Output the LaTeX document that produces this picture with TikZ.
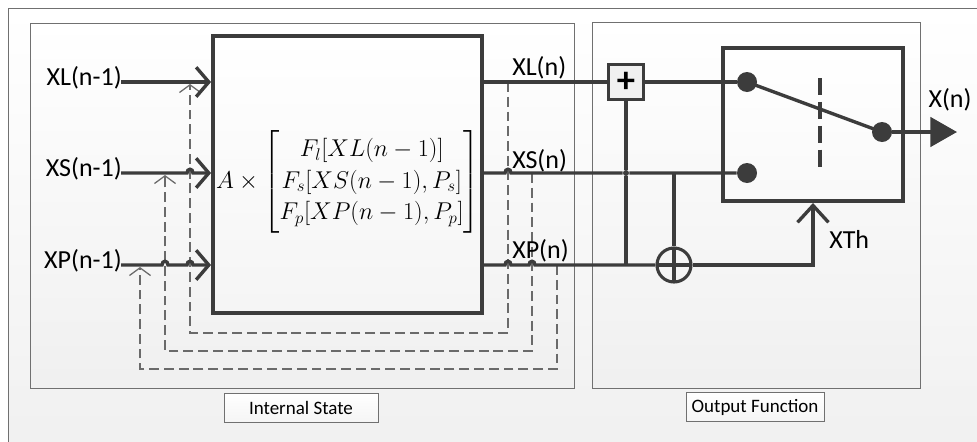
\documentclass[tikz,border=0pt]{standalone}
\usepackage{amsmath}
\usepackage{fontspec}
\setmainfont{Carlito}
\usetikzlibrary{arrows.meta,positioning}

\definecolor{ink}{HTML}{3C3C3C}
\definecolor{frame}{HTML}{707070}
\definecolor{fback}{HTML}{6A6A6A}

\tikzset{
  panel/.style={draw=frame, line width=0.7pt, top color=white, bottom color=gray!12},
  tag/.style={draw=frame, line width=0.7pt, top color=white, bottom color=gray!8,
    font=\fontsize{13.5}{16}\selectfont, minimum height=29*0.025cm, inner sep=0pt},
  sig/.style={font=\fontsize{18.5}{21}\selectfont, inner sep=0pt},
  flow/.style={draw=ink, line width=2.4pt},
  fb/.style={draw=fback, line width=0.9pt, dash pattern=on 7pt off 3.5pt},
  inarr/.style={-{Straight Barb[length=9pt,width=21pt,line width=2.4pt]}},
  fbarr/.style={-{Straight Barb[length=5.5pt,width=15pt,line width=0.9pt]}},
  hop/.style 2 args={insert path={-- (#1-3,#2) .. controls (#1-3,#2-5) and (#1+3,#2-5) .. (#1+3,#2)}},
  dot/.style={circle, fill=ink, minimum size=20*0.025cm, inner sep=0pt},
  joint/.style={circle, fill=ink, minimum size=6*0.025cm, inner sep=0pt}
}

\begin{document}
\begin{tikzpicture}[x=0.025cm, y=-0.025cm]
  \clip (0,0) rectangle (977,441);
  \fill[white] (0,0) rectangle (977,441);
  \draw[panel] (8,8) rectangle (1000,470);

  % the two panels
  \draw[panel] (30,23) rectangle (574,388);
  \draw[panel] (592,22) rectangle (920,388);
  \node[tag, minimum width=154*0.025cm] (statetag) at (301,407.5) {Internal State};
  \node[tag, minimum width=138*0.025cm] (outtag) at (755,407) {Output Function};

  % state update block
  \node[draw=ink, line width=2.8pt, top color=white, bottom color=gray!8,
        minimum width=269*0.025cm, minimum height=277*0.025cm, inner sep=0pt] (core) at (347.5,174.5) {};
  \node[font=\fontsize{17.5}{22.5}\selectfont, inner sep=0pt] (law) at (348,182)
    {$A\times\begin{bmatrix} F_l[XL(n-1)]\\ F_s[XS(n-1),P_s]\\ F_p[XP(n-1),P_p]\end{bmatrix}$};

  % inputs, outputs and feedback paths
  \foreach \n/\y/\fx/\tx/\by/\ly in {L/82/190/508/333/75, S/173/165/532/351/168, P/265/140/557/369/258} {
    \coordinate (x\n in) at (121,\y);
    \node[sig, anchor=base east] (x\n lab) at (122,\y+3.5) {X\n(n-1)};
    \node[sig, anchor=base west] (x\n out) at (512,\ly) {X\n(n)};
    \coordinate (tap\n) at (\tx,\y);
    \coordinate (ret\n) at (\fx,\y+2);
    \draw[fb, fbarr] (tap\n) |- (\fx,\by) -- (ret\n);
  }
  \draw[flow, inarr] (xLin) -- (core.west |- xLin);
  \draw[flow, inarr] (xSin) [hop={190}{173}] -- (core.west |- xSin);
  \draw[flow, inarr] (xPin) [hop={165}{265}] [hop={190}{265}] -- (core.west |- xPin);

  % output function
  \node[draw=ink, line width=2.8pt, top color=white, bottom color=gray!5,
        minimum width=180*0.025cm, minimum height=153*0.025cm, inner sep=0pt] (sw) at (813,124.5) {};
  \node[draw=ink, line width=2.2pt, fill=gray!12, minimum size=35*0.025cm, inner sep=0pt,
        font=\fontsize{26}{26}\selectfont\bfseries] (plus) at (626,82) {+};
  \node[circle, draw=ink, line width=2.2pt, minimum size=34*0.025cm, inner sep=0pt,
        path picture={\draw[ink, line width=2.2pt] (path picture bounding box.north) -- (path picture bounding box.south)
          (path picture bounding box.west) -- (path picture bounding box.east);}] (xor) at (674,265) {};
  \node[dot] (pL) at (747,82) {};
  \node[dot] (pS) at (747,173) {};
  \node[dot] (pout) at (882,132) {};
  \node[joint] (jS) at (626,173) {};
  \coordinate (jX) at (674,173);
  \coordinate (jP) at (626,265);
  \coordinate (xend) at (957,132);

  \draw[flow] (core.east |- xLin) -- (plus);
  \draw[flow] (plus) -- (pL);
  \draw[flow] (core.east |- xSin) [hop={508}{173}] -- (jS) -- (pS);
  \draw[flow] (core.east |- xPin) [hop={508}{265}] [hop={532}{265}] -- (xor);
  \draw[flow] (plus) -- (jS) -- (jP);
  \draw[flow] (jX) -- (xor);
  \draw[flow, -{Straight Barb[length=12pt,width=22pt,line width=2.4pt]}] (xor) -| (sw.south);
  \node[sig, anchor=base west] (thlab) at (829,248) {XTh};

  % switch
  \draw[flow] (pL.center) -- (pout.center);
  \draw[ink, line width=2.2pt, dash pattern=on 12pt off 5pt] (820,78) -- (820,170);
  \draw[flow, -{Triangle[length=19pt,width=21pt]}] (pout) -- (xend);
  \node[sig, anchor=base] (xnlab) at (950,107) {X(n)};
\end{tikzpicture}
\end{document}
